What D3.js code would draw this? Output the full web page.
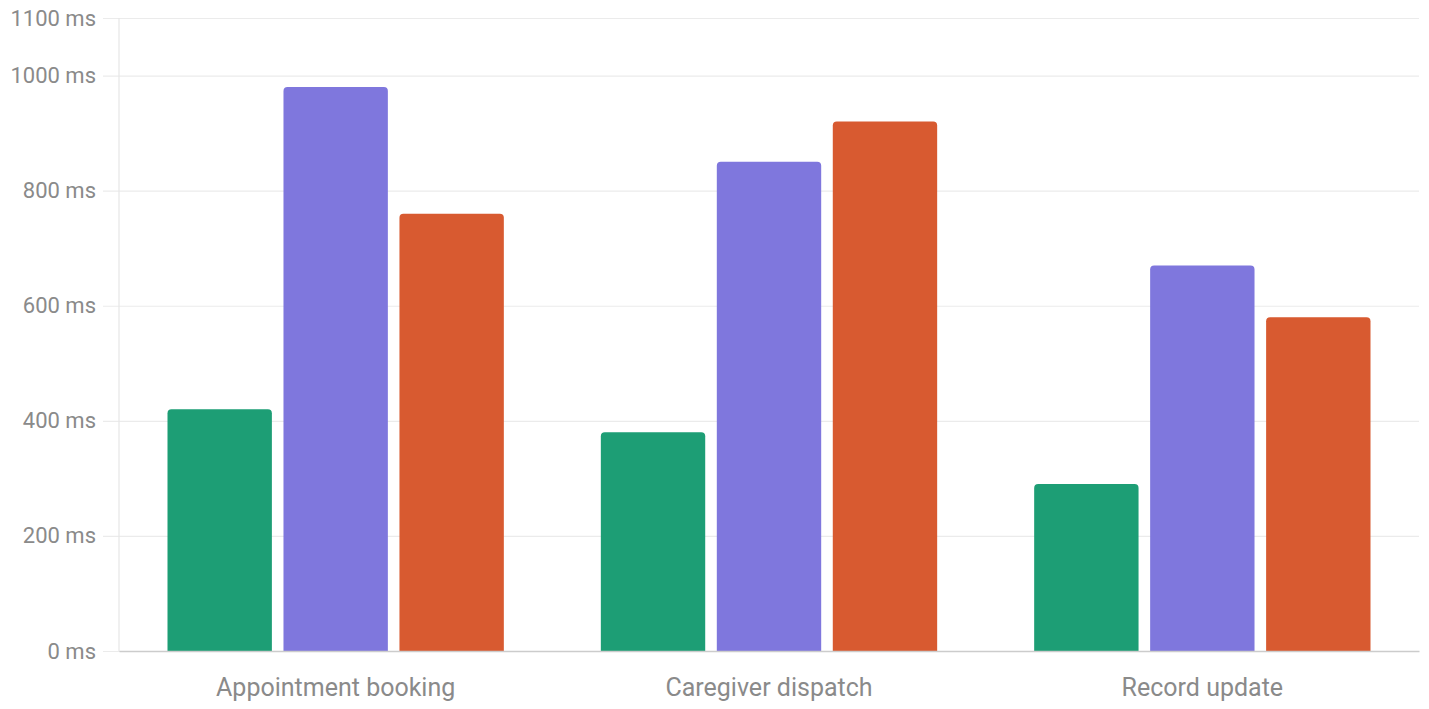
<!DOCTYPE html>
<html>
<head>
<meta charset="utf-8">
<script src="https://cdn.jsdelivr.net/npm/d3@7"></script>
<style>
  body { margin: 0; background: #fff; }
  svg { display: block; }
  svg text { font-family: Roboto, sans-serif; }
</style>
</head>
<body>
<svg id="chart" width="1429" height="709"></svg>
<script>
'use strict';

var categories = ["Appointment booking", "Caregiver dispatch", "Record update"];
var seriesNames = ["Series 1", "Series 2", "Series 3"];
var series1 = [420, 380, 290];
var series2 = [980, 850, 670];
var series3 = [760, 920, 580];
var tickValues = [0, 200, 400, 600, 800, 1000, 1100];
var colors = ["#1d9e75", "#7f77dd", "#d85a30"];

var margin = {top: 18, right: 10, bottom: 58, left: 119};
var width = 1429 - margin.left - margin.right;
var height = 709 - margin.top - margin.bottom;

var svg = d3.select("#chart");
var g = svg.append("g").attr("transform", "translate(" + margin.left + "," + margin.top + ")");

var y = d3.scaleLinear().domain([0, 1100]).range([height, 0]);
var x0 = d3.scaleBand().domain(categories).range([0, width]);
var pad = 48.5;
var x1 = d3.scaleBand().domain(seriesNames)
  .range([pad, x0.bandwidth() - pad]).paddingInner(0.1);

// grid + left ticks
var yAxis = g.append("g")
  .call(d3.axisLeft(y).tickValues(tickValues).tickSize(-width)
    .tickFormat(function(d) { return d + " ms"; }))
  .call(function(s) { s.select(".domain").remove(); });
yAxis.selectAll(".tick line")
  .attr("x1", -16)
  .attr("stroke", "#ebebeb")
  .attr("stroke-width", 1.2);
yAxis.selectAll(".tick text")
  .attr("x", -23)
  .attr("fill", "#8a8a8a")
  .style("font-family", "Roboto, sans-serif")
  .style("font-size", "22px");

// vertical axis line
g.append("line")
  .attr("x1", 0).attr("x2", 0)
  .attr("y1", y(1100)).attr("y2", height)
  .attr("stroke", "#e6e6e6")
  .attr("stroke-width", 1.2);

var data = categories.map(function(c, i) {
  return {cat: c, values: [series1[i], series2[i], series3[i]]};
});

function topRounded(x, yTop, w, h, r) {
  r = Math.min(r, h);
  return "M" + x + "," + (yTop + h) +
    "V" + (yTop + r) +
    "Q" + x + "," + yTop + " " + (x + r) + "," + yTop +
    "H" + (x + w - r) +
    "Q" + (x + w) + "," + yTop + " " + (x + w) + "," + (yTop + r) +
    "V" + (yTop + h) + "Z";
}

var groups = g.selectAll(".grp")
  .data(data)
  .enter()
  .append("g")
  .attr("transform", function(d) { return "translate(" + x0(d.cat) + ",0)"; });

groups.selectAll("path")
  .data(function(d) {
    return d.values.map(function(v, i) { return {name: seriesNames[i], value: v, i: i}; });
  })
  .enter()
  .append("path")
  .attr("d", function(d) {
    return topRounded(x1(d.name), y(d.value), x1.bandwidth(), height - y(d.value), 4);
  })
  .style("fill", function(d) { return colors[d.i]; });

// bottom axis
var xAxis = g.append("g")
  .attr("transform", "translate(0," + height + ")")
  .call(d3.axisBottom(x0).tickSize(0).tickPadding(27));
xAxis.select(".domain").attr("stroke", "#cccccc").attr("stroke-width", 1.5);
xAxis.selectAll(".tick text")
  .attr("fill", "#8a8a8a")
  .style("font-family", "Roboto, sans-serif")
  .style("font-size", "25px");
</script>
</body>
</html>
